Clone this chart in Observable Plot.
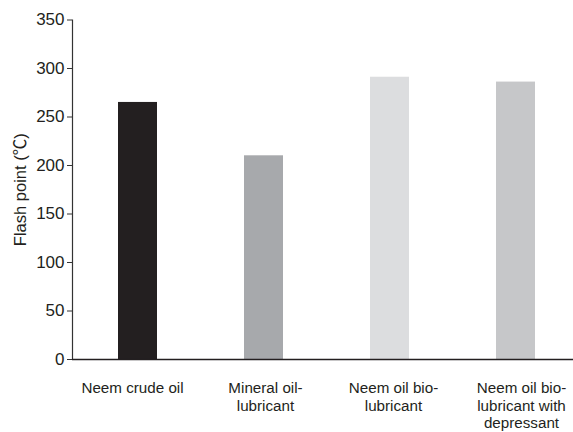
<!DOCTYPE html>
<html>
<head>
<meta charset="utf-8">
<script src="https://cdn.jsdelivr.net/npm/d3@7"></script>
<script src="https://cdn.jsdelivr.net/npm/@observablehq/plot@0.6"></script>
<style>
  html, body { margin: 0; padding: 0; background: #fff; overflow: hidden; }
  #chart svg { display: block; font-family: "Liberation Sans", Arial, sans-serif; }
</style>
</head>
<body>
<div id="chart"></div>
<script>
const categories = ["Neem crude oil", "Mineral oil-lubricant", "Neem oil bio-lubricant", "Neem oil bio-lubricant with depressant"];
const tickLabels = ["Neem crude oil", "Mineral oil-\nlubricant", "Neem oil bio-\nlubricant", "Neem oil bio-\nlubricant with\ndepressant"];
const flashPoint = [265, 210, 291, 286];
const barColors = ["#231f20", "#a7a9ac", "#dcdddf", "#c6c7c9"];
const yTicks = [0, 50, 100, 150, 200, 250, 300, 350];
const yLabel = "Flash point (℃)";

const data = categories.map((c, i) => ({category: c, value: flashPoint[i], color: barColors[i], label: tickLabels[i]}));

// small horizontal nudges of the category labels relative to bar centres (layout only)
const labelNudge = [-5.5, 1.5, 3.5, 5.5];

const labelMarks = data.map((d, i) =>
  Plot.text([d], {
    x: "category", text: "label",
    y: () => 0,
    dx: labelNudge[i],
    lineAnchor: "top", dy: 21, lineHeight: 1.16,
    fontSize: 15.2, fill: "#231f20"
  })
);

const chart = Plot.plot({
  width: 573,
  height: 432,
  marginLeft: 72,
  marginRight: 0,
  marginTop: 19.5,
  marginBottom: 73,
  style: {fontFamily: "Liberation Sans, Arial, sans-serif", color: "#231f20", background: "#fff"},
  x: {domain: categories, range: [73, 580], paddingInner: 0.69, paddingOuter: 0.345, axis: null},
  y: {domain: [0, 350]},
  marks: [
    Plot.barY(data, {x: "category", y: "value", fill: "color"}),
    Plot.frame({anchor: "left", stroke: "#333", strokeWidth: 1.2}),
    Plot.ruleY([0], {stroke: "#231f20", strokeWidth: 1.6}),
    Plot.axisY({
      ticks: yTicks, tickSize: 5, tickPadding: 3, fontSize: 17,
      stroke: "#333",
      label: yLabel, labelAnchor: "center", labelArrow: "none", labelOffset: 58
    }),
    ...labelMarks
  ]
});
chart.querySelectorAll('[aria-label="y-axis label"] text').forEach(t => {
  t.setAttribute("font-size", 16.5);
  const txt = t.textContent;
  const idx = txt.indexOf("℃");
  if (idx >= 0) {
    t.textContent = "";
    const ns = "http://www.w3.org/2000/svg";
    const a = document.createElementNS(ns, "tspan"); a.textContent = txt.slice(0, idx);
    const b = document.createElementNS(ns, "tspan"); b.textContent = "℃";
    b.style.fontFamily = '"Noto Sans CJK SC", sans-serif';
    const c = document.createElementNS(ns, "tspan"); c.textContent = txt.slice(idx + 1);
    t.append(a, b, c);
  }
});
document.getElementById("chart").append(chart);
</script>
</body>
</html>
